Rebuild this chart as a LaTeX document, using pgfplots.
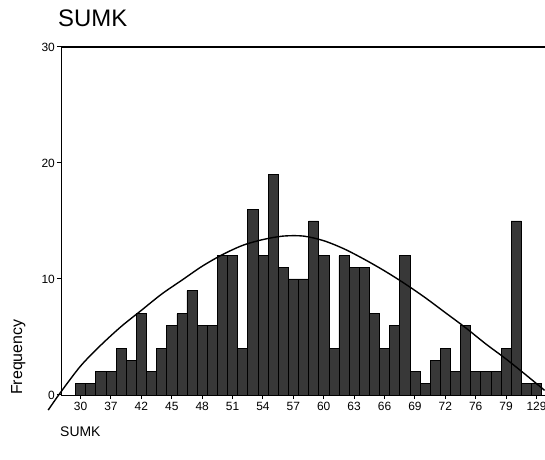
\documentclass[border=0pt]{standalone}
\usepackage{fontspec}
\setmainfont{Liberation Sans}
\usepackage{pgfplots}
\pgfplotsset{compat=1.18}
\usepackage{pgfplotstable}

% frequency of each SUMK category, plotted at 0,1,2,...
\pgfplotstableread{
idx freq
0 1
1 1
2 2
3 2
4 4
5 3
6 7
7 2
8 4
9 6
10 7
11 9
12 6
13 6
14 12
15 12
16 4
17 16
18 12
19 19
20 11
21 10
22 10
23 15
24 12
25 4
26 12
27 11
28 11
29 7
30 4
31 6
32 12
33 2
34 1
35 3
36 4
37 2
38 6
39 2
40 2
41 2
42 4
43 15
44 1
45 1
}\sumk

\begin{document}
\begin{tikzpicture}
\begin{axis}[
  scale only axis,
  width=484bp, height=348bp,
  xmin=-1.935, xmax=45.84,
  ymin=0, ymax=30,
  axis lines=left,
  axis line style={-, line width=0.9bp},
  clip=false,
  tick align=outside,
  major tick length=4bp,
  tick style={black, line width=1bp},
  xtick={0,3,...,45},
  xticklabels={30,37,42,45,48,51,54,57,60,63,66,69,72,76,79,129},
  ytick={0,10,20},
  extra y ticks={30},
  extra y tick style={grid=major, major grid style={black, line width=1.3bp}},
  tick label style={font=\fontsize{12}{14}\selectfont},
  /pgf/number format/assume math mode=true,
  yticklabel style={inner sep=2bp},
  xticklabel style={inner sep=3bp},
]
\addplot[ybar, bar width=1, bar shift=0pt, fill=black!78, draw=black, line width=0.6bp]
  table[x=idx, y=freq] {\sumk};
% normal curve
\addplot[smooth, black, line width=1.4bp] coordinates {
  (-3.2,-1.3) (-2,0.2) (0,2.5) (2,4.3) (4,5.9) (6,7.3) (8,8.7) (10,9.9)
  (12,11.1) (14,12.1) (16,12.9) (18,13.4) (20,13.7) (22,13.7) (24,13.3)
  (26,12.6) (28,11.7) (30,10.7) (32,9.6) (34,8.4) (36,7.1) (38,5.8)
  (40,4.4) (42,3.1) (44,1.7) (45.8,0.4)
};
\end{axis}
\node[anchor=base west, inner sep=0, font=\fontsize{24}{28}\selectfont] at (-3bp,368bp) {SUMK};
\node[rotate=90, anchor=base west, inner sep=0, font=\fontsize{16}{19}\selectfont] at (-39bp,0bp) {Frequency};
\node[anchor=base west, inner sep=0, font=\fontsize{14}{17}\selectfont] at (-1bp,-41bp) {SUMK};
\pgfresetboundingbox
\path[use as bounding box] (-61bp,-65bp) rectangle (484bp,395bp);
\end{tikzpicture}
\end{document}
